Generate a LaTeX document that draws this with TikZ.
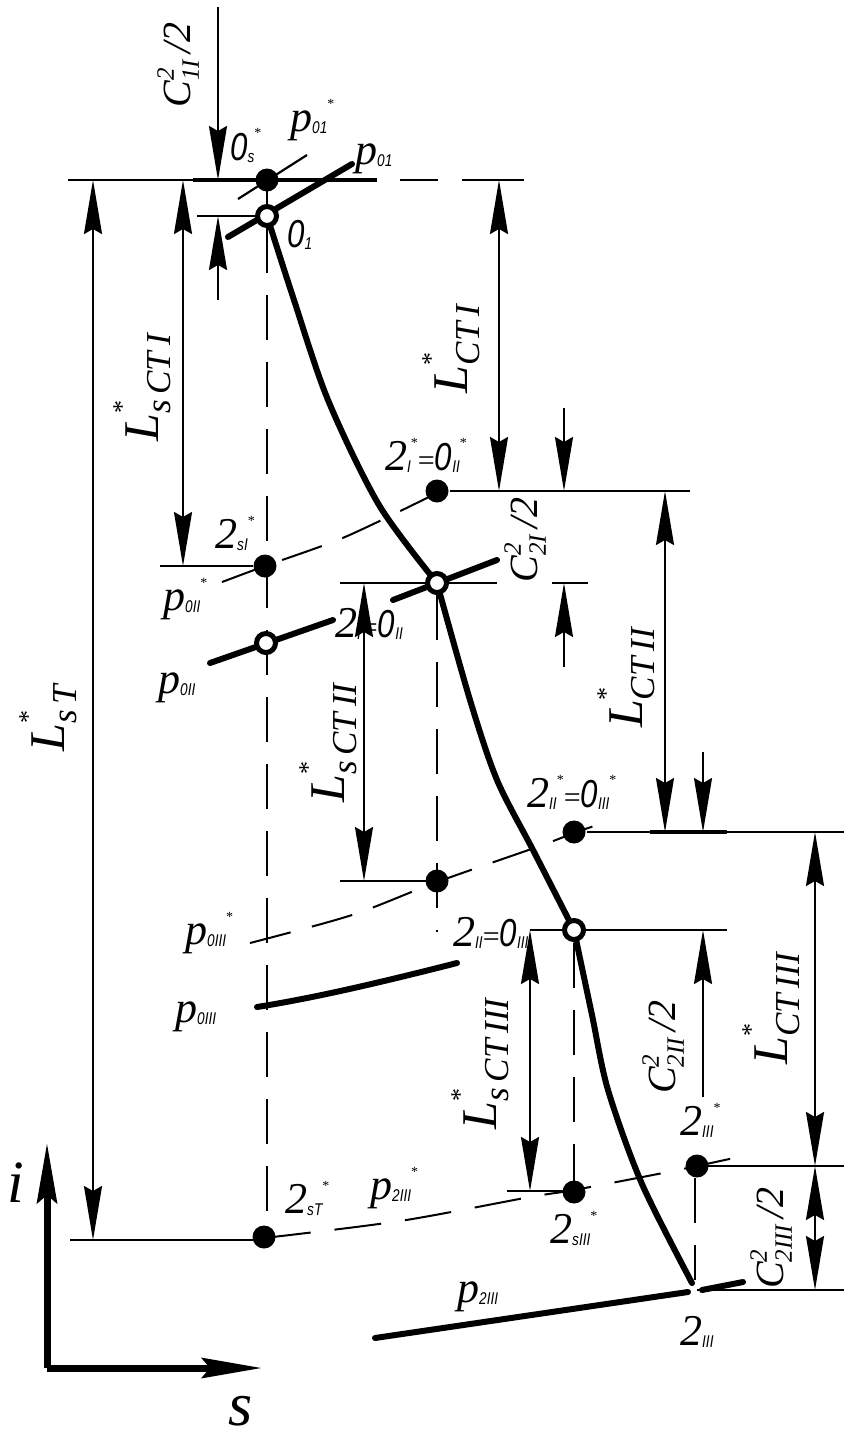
\documentclass[tikz,border=0pt]{standalone}
\usepackage{fontspec}
\setmainfont{Liberation Serif}
\newfontfamily\gost[FakeStretch=0.8]{Liberation Sans}
\usetikzlibrary{arrows.meta}
\newcommand\sbf{\fontsize{17}{17}\selectfont\gost\itshape}
\newcommand\stf{\fontsize{14}{14}\selectfont\rmfamily\upshape}
\newcommand\Z{{\fontsize{39}{39}\selectfont\gost\itshape 0}}
\newcommand\PT[3]{#1\raisebox{-2pt}{\sbf #2}\raisebox{23pt}{\stf #3}}
\newcommand\EQ{{\fontsize{30}{30}\selectfont\upshape =}}
\newcommand\Lab[1]{{\fontsize{50}{50}\selectfont\itshape L\rlap{\raisebox{28pt}{\fontsize{26}{26}\selectfont\upshape *}}\raisebox{-12pt}{\fontsize{35}{35}\selectfont #1}}}
\newcommand\Cab[1]{{\fontsize{40}{40}\selectfont\itshape C\rlap{\raisebox{17pt}{\fontsize{25}{25}\selectfont 2}}\raisebox{-8pt}{\fontsize{25}{25}\selectfont #1}\,/2}}
\tikzset{
  thinln/.style={line width=2.2pt},
  thickln/.style={line width=6pt, line cap=round},
  dashln/.style={line width=2pt, dash pattern=on 42pt off 22pt},
  dashv/.style={line width=2.4pt, dash pattern=on 45pt off 22pt},
  dim/.style={thinln, {Stealth[length=54pt,width=18pt,inset=5pt]}-{Stealth[length=54pt,width=18pt,inset=5pt]}},
  dimend/.style={thinln, -{Stealth[length=54pt,width=18pt,inset=5pt]}},
  fdot/.style={circle, fill=black, inner sep=0pt, minimum size=23pt},
  odot/.style={circle, draw=black, line width=5pt, fill=white, inner sep=0pt, minimum size=19pt},
  axisln/.style={line width=7pt, -{Stealth[length=60pt,width=20pt,inset=8pt]}},
  lbl/.style={font=\fontsize{44}{44}\selectfont\itshape, inner sep=0pt, anchor=base west},
  rlbl/.style={rotate=90, inner sep=0pt},
}
\begin{document}
\begin{tikzpicture}[x=1pt,y=-1pt]
\useasboundingbox (0,0) rectangle (844,1446);
\fill[white] (0,0) rectangle (844,1446);
% key points
\coordinate (Os) at (267,180);
\coordinate (O1) at (267,216);
\coordinate (A2I) at (437,491);
\coordinate (S2I) at (265,566);
\coordinate (B2I) at (437,583);
\coordinate (P0II) at (266,643);
\coordinate (A2II) at (574,832);
\coordinate (S2II) at (437,881);
\coordinate (B2II) at (574,930);
\coordinate (A2III) at (697,1166);
\coordinate (S2III) at (574,1192);
\coordinate (S2T) at (264,1237);
\coordinate (B2III) at (692,1283);
% horizontal reference lines
\draw[thinln] (68,180) -- (524,180);
\draw[white,line width=3pt] (377,180) -- (400,180) (438,180) -- (462,180);
\draw[line width=3.6pt] (193,180) -- (377,180);
\draw[thinln] (197,216) -- (262,216);
\draw[thinln] (450,491) -- (690,491);
\draw[thinln] (160,566) -- (253,566);
\draw[thinln] (340,583) -- (497,583);
\draw[thinln] (552,583) -- (588,583);
\draw[thinln] (587,832) -- (844,832);
\draw[line width=3.6pt] (650,832) -- (727,832);
\draw[thinln] (340,881) -- (430,881);
\draw[thinln] (530,930) -- (727,930);
\draw[thinln] (707,1166) -- (844,1166);
\draw[thinln] (507,1191) -- (563,1191);
\draw[thinln] (70,1240) -- (253,1240);
\draw[thinln] (697,1290) -- (844,1290);
% vertical construction lines
\draw[thinln] (Os) -- (O1);
\draw[dashv] (267,228) -- (267,1226);
\draw[dashv] (437,595) -- (437,932);
\draw[dashv] (574,943) -- (574,1183);
\draw[dashv] (695,1178) -- (695,1280);
% dimension lines
\draw[dimend] (218,7) -- (218,180);
\draw[dimend] (218,300) -- (218,216);
\draw[dim] (93,180) -- (93,1240);
\draw[dim] (183,180) -- (183,566);
\draw[dim] (499,180) -- (499,491);
\draw[dimend] (564,408) -- (564,491);
\draw[dimend] (564,667) -- (564,583);
\draw[dim] (665,491) -- (665,832);
\draw[dim] (364,583) -- (364,881);
\draw[dimend] (703,752) -- (703,832);
\draw[dimend] (703,1097) -- (703,930);
\draw[dim] (815,832) -- (815,1166);
\draw[dim] (530,930) -- (530,1191);
\draw[dim] (815,1166) -- (815,1290);
% isobars
\draw[thickln] (228,237) -- (352,164);
\draw[thinln] (238,199) -- (307,155);
\draw[dashln] plot[smooth] coordinates {(222,582) (265,566) (345,537) (437,493)};
\draw[thickln] (210,663) -- (333,620);
\draw[thickln] (393,600) -- (497,560);
\draw[dashln] plot[smooth] coordinates {(250,943) (352,915) (437,882) (537,847) (574,833) (597,825)};
\draw[thickln] (257,1007) .. controls (320,997) and (390,980) .. (457,963);
\draw[dashln, dash pattern=on 47pt off 24pt] plot[smooth] coordinates {(264,1238) (400,1221) (530,1197) (574,1190) (673,1171) (743,1156)};
\draw[thickln] (375,1338) -- (688,1292);
\draw[thickln] (702,1290) -- (743,1282);
% expansion line
\draw[thickln] plot[smooth] coordinates {(267,216) (293,297) (328,400) (379,505) (437,583)};
\draw[thickln] plot[smooth] coordinates {(437,583) (470,700) (497,780) (533,850) (574,930)};
\draw[thickln] plot[smooth] coordinates {(574,930) (592,1015) (608,1090) (642,1184) (692,1283)};
% dots
\node[fdot] (n0s) at (Os) {};
\node[odot] (n01) at (O1) {};
\node[fdot] (n2Is) at (A2I) {};
\node[fdot] (n2sI) at (S2I) {};
\node[odot] (n2I) at (B2I) {};
\node[odot] (np0II) at (P0II) {};
\node[fdot] (n2IIs) at (A2II) {};
\node[fdot] (n2sII) at (S2II) {};
\node[odot] (n2II) at (B2II) {};
\node[fdot] (n2IIIs) at (A2III) {};
\node[fdot] (n2sIII) at (S2III) {};
\node[fdot] (n2sT) at (S2T) {};
% axes
\coordinate (Or) at (47,1368);
\coordinate (Iend) at (47,1143);
\coordinate (Send) at (262,1368);
\draw[axisln] (Or) -- (Iend);
\draw[axisln] (Or) -- (Send);
% point labels
\node[lbl] (l0s) at (230,160) {\PT{\Z}{s}{*}};
\node[lbl] (lp01s) at (290,131) {\PT{p}{01}{*}};
\node[lbl] (lp01) at (355,164) {\PT{p}{01}{}};
\node[lbl] (l01) at (287,247) {\PT{\Z}{1}{}};
\node[lbl] (l2sI) at (215,548) {\PT{2}{sI}{*}};
\node[lbl] (l2I0IIs) at (385,470) {\PT{2}{I}{*}\EQ\PT{\Z}{II}{*}};
\node[lbl] (lp0IIs) at (163,610) {\PT{p}{0II}{*}};
\node[lbl] (lp0II) at (158,693) {\PT{p}{0II}{}};
\node[lbl] (l2I0II) at (335,637) {\PT{2}{I}{}\EQ\PT{\Z}{II}{}};
\node[lbl] (l2II0IIIs) at (527,807) {\PT{2}{II}{*}\EQ\PT{\Z}{III}{*}};
\node[lbl] (lp0IIIs) at (185,944) {\PT{p}{0III}{*}};
\node[lbl] (l2II0III) at (453,946) {\PT{2}{II}{}\EQ\PT{\Z}{III}{}};
\node[lbl] (lp0III) at (175,1022) {\PT{p}{0III}{}};
\node[lbl] (l2IIIs) at (680,1135) {\PT{2}{III}{*}};
\node[lbl] (l2sT) at (285,1213) {\PT{2}{sT}{*}};
\node[lbl] (lp2IIIs) at (370,1199) {\PT{p}{2III}{*}};
\node[lbl] (l2sIII) at (550,1243) {\PT{2}{sIII}{*}};
\node[lbl] (lp2III) at (457,1302) {\PT{p}{2III}{}};
\node[lbl] (l2III) at (680,1345) {\PT{2}{III}{}};
\node[lbl,font=\fontsize{60}{60}\selectfont\itshape] (li) at (7,1202) {i};
\node[lbl,font=\fontsize{62}{62}\selectfont\itshape] (ls) at (228,1425) {s};
% dimension labels
\node[rlbl] (dC1) at (178,65) {\Cab{1I}};
\node[rlbl] (dLsT) at (48,718) {\Lab{s\,T}};
\node[rlbl] (dLsCTI) at (142,388) {\Lab{s\,CT\,I}};
\node[rlbl] (dLCTI) at (451,349) {\Lab{CT\,I}};
\node[rlbl] (dC2I) at (525,540) {\Cab{2I}};
\node[rlbl] (dLCTII) at (626,678) {\Lab{CT\,II}};
\node[rlbl] (dLsCTII) at (328,743) {\Lab{s\,CT\,II}};
\node[rlbl] (dC2II) at (663,1047) {\Cab{2II}};
\node[rlbl] (dLCTIII) at (771,1009) {\Lab{CT\,III}};
\node[rlbl] (dLsCTIII) at (480,1064) {\Lab{s\,CT\,III}};
\node[rlbl] (dC2III) at (771,1238) {\Cab{2III}};
\end{tikzpicture}
\end{document}
